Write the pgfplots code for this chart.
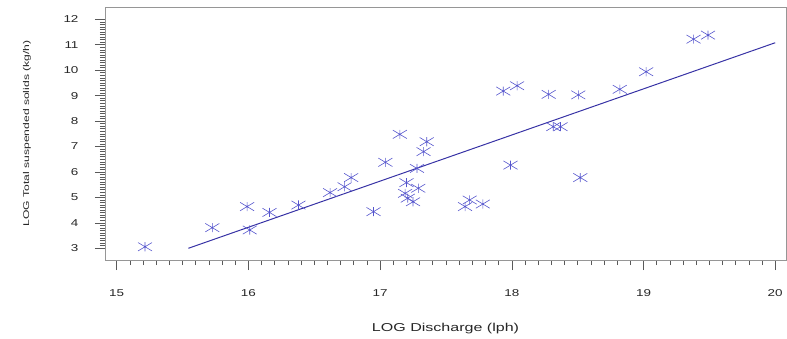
\documentclass[border=0pt]{standalone}
\usepackage{fontspec}
\setmainfont{Liberation Sans}
\usepackage{pgfplots}
\pgfplotsset{compat=1.18}
\definecolor{markblue}{RGB}{85,85,205}
\definecolor{lineblue}{RGB}{55,50,165}
\definecolor{framegray}{RGB}{150,150,150}
\definecolor{tickgray}{RGB}{90,90,90}
\pgfdeclareplotmark{sasstar}{%
  \pgfpathmoveto{\pgfqpoint{0pt}{-0.65\pgfplotmarksize}}%
  \pgfpathlineto{\pgfqpoint{0pt}{0.65\pgfplotmarksize}}%
  \pgfpathmoveto{\pgfqpoint{-\pgfplotmarksize}{-0.6\pgfplotmarksize}}%
  \pgfpathlineto{\pgfqpoint{\pgfplotmarksize}{0.6\pgfplotmarksize}}%
  \pgfpathmoveto{\pgfqpoint{-\pgfplotmarksize}{0.6\pgfplotmarksize}}%
  \pgfpathlineto{\pgfqpoint{\pgfplotmarksize}{-0.6\pgfplotmarksize}}%
  \pgfusepathqstroke}
\begin{document}
\begin{tikzpicture}
\begin{axis}[
  scale only axis,
  width=681bp, height=253bp,
  xmin=14.911, xmax=20.082,
  ymin=2.54, ymax=12.485,
  xtick={15,16,17,18,19,20},
  ytick={3,4,5,6,7,8,9,10,11,12},
  minor x tick num=9,
  minor y tick num=9,
  tick pos=left,
  tick align=outside,
  major tick length=10bp,
  minor tick length=5bp,
  axis line style={framegray, line width=0.8pt},
  every tick/.style={tickgray, line width=0.6pt},
  tick label style={font=\fontsize{10}{12}\selectfont, text=black!85},
  xticklabel style={yshift=-16bp},
  yticklabel style={xshift=-13bp},
  xticklabel={\scalebox{1.35}[1]{\pgfmathprintnumber[assume math mode=true]{\tick}}},
  yticklabel={\scalebox{1.35}[1]{\pgfmathprintnumber[assume math mode=true]{\tick}}},
  xlabel={\scalebox{1.4}[1]{LOG Discharge (lph)}},
  ylabel={\scalebox{1.45}[1]{LOG Total suspended solids (kg/h)}},
  xlabel style={font=\fontsize{11.5}{13}\selectfont, text=black!85, at={(axis description cs:0.5,-0.2727)}, anchor=center},
  ylabel style={font=\fontsize{8.4}{10}\selectfont, text=black!85, at={(axis description cs:-0.1145,0.5)}, anchor=center},
]
\addplot[only marks, mark=sasstar, mark size=7bp, mark options={markblue, line width=0.6pt}] coordinates {
(15.215,3.06) (15.726,3.81) (15.99,4.64) (16.01,3.72) (16.16,4.41)
(16.38,4.70) (16.62,5.19) (16.73,5.42) (16.78,5.78) (16.95,4.44)
(17.04,6.38) (17.15,7.48) (17.354,7.19) (17.33,6.80) (17.28,6.14)
(17.20,5.58) (17.29,5.36) (17.19,5.16) (17.21,4.97) (17.25,4.83)
(17.645,4.64) (17.68,4.90) (17.78,4.74) (17.935,9.18) (18.04,9.39)
(17.99,6.27) (18.28,9.05) (18.315,7.78) (18.37,7.78) (18.505,9.03)
(18.52,5.78) (18.82,9.25) (19.02,9.94) (19.38,11.22) (19.49,11.38)
};
\addplot[lineblue, line width=1pt] coordinates {(15.544,3.0) (20.0,11.08)};
\end{axis}
\pgfresetboundingbox
\path[use as bounding box] (current axis.south west) ++(-105bp,-79bp) rectangle ++(787bp,339bp);
\end{tikzpicture}
\end{document}
